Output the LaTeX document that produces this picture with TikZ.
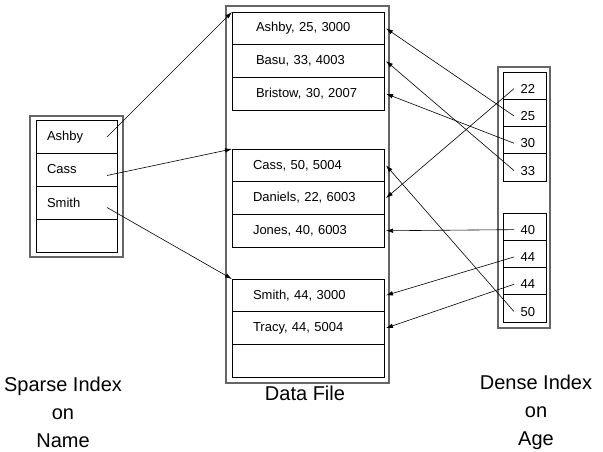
\documentclass[tikz,border=0pt]{standalone}
\usepackage{fontspec}
\setmainfont{Liberation Sans}
\usetikzlibrary{arrows.meta,calc}

\begin{document}
\begin{tikzpicture}[x=1pt,y=-1pt,
  outer/.style={draw=black!60,line width=1.3pt,inner sep=0,outer sep=0},
  cell/.style={draw,line width=0.9pt,inner sep=0,outer sep=0,font=\fontsize{13}{15}\selectfont},
  sparsecell/.style={cell,minimum width=81pt,minimum height=33pt,text width=59pt,align=left},
  filecell/.style={cell,minimum width=152pt,minimum height=32.7pt,text width=110pt,align=left},
  agecell/.style={cell,minimum width=43pt,minimum height=27.3pt,text width=21pt,align=right,text height=15pt,text depth=0pt},
  ptr/.style={-{Latex[length=7pt,width=4.5pt]},line width=0.6pt},
  caption/.style={align=center,font=\fontsize{20}{28}\selectfont}]
  \useasboundingbox (0,0) rectangle (603,452);

  % outer frames
  \node[outer,minimum width=93pt,minimum height=141pt] (sparse) at (76.5,186.5) {};
  \node[outer,minimum width=163pt,minimum height=377pt] (file) at (307.5,194.5) {};
  \node[outer,minimum width=52pt,minimum height=261pt] (dense) at (524,197.5) {};

  % sparse index on name
  \node[sparsecell] (sAshby) at (76.5,137) {Ashby};
  \node[sparsecell] (sCass) at (76.5,169.5) {Cass};
  \node[sparsecell] (sSmith) at (76.5,202.5) {Smith};
  \node[sparsecell] (sEmpty) at (76.5,235.5) {};

  % data file
  \node[filecell,text width=104pt] (fAshby) at (308,28.35) {Ashby, 25, 3000};
  \node[filecell,text width=104pt] (fBasu) at (308,61.05) {Basu, 33, 4003};
  \node[filecell,text width=104pt] (fBristow) at (308,93.75) {Bristow, 30, 2007};

  \node[filecell] (fCass) at (308,165.35) {Cass, 50, 5004};
  \node[filecell] (fDaniels) at (308,198.05) {Daniels, 22, 6003};
  \node[filecell] (fJones) at (308,230.75) {Jones, 40, 6003};

  \node[filecell] (fSmith) at (308,295.35) {Smith, 44, 3000};
  \node[filecell] (fTracy) at (308,328.05) {Tracy, 44, 5004};
  \node[filecell] (fEmpty) at (308,360.75) {};

  % dense index on age
  \node[agecell] (d22) at (524.5,85.65) {22};
  \node[agecell] (d25) at (524.5,112.95) {25};
  \node[agecell] (d30) at (524.5,140.25) {30};
  \node[agecell] (d33) at (524.5,167.55) {33};

  \node[agecell] (d40) at (524.5,226.65) {40};
  \node[agecell] (d44a) at (524.5,253.95) {44};
  \node[agecell] (d44b) at (524.5,281.25) {44};
  \node[agecell] (d50) at (524.5,308.55) {50};

  % sparse pointers
  \draw[ptr] ($(sAshby.east)+(-10,0)$) -- (fAshby.north west);
  \draw[ptr] ($(sCass.east)+(-10,6)$) -- (fCass.north west);
  \draw[ptr] ($(sSmith.east)+(-10,5)$) -- (fSmith.north west);

  % dense pointers
  \draw[ptr] ($(d22.west)+(11,3)$) -- ($(fDaniels.east)+(2,0)$);
  \draw[ptr] ($(d25.west)+(11,3)$) -- ($(fAshby.east)+(2,0)$);
  \draw[ptr] ($(d30.west)+(11,3)$) -- ($(fBristow.east)+(2,0)$);
  \draw[ptr] ($(d33.west)+(11,3)$) -- ($(fBasu.east)+(2,0)$);
  \draw[ptr] ($(d40.west)+(11,3)$) -- ($(fJones.east)+(2,0)$);
  \draw[ptr] ($(d44a.west)+(11,3)$) -- ($(fSmith.east)+(2,0)$);
  \draw[ptr] ($(d44b.west)+(11,3)$) -- ($(fTracy.east)+(2,0)$);
  \draw[ptr] ($(d50.west)+(11,3)$) -- ($(fCass.east)+(2,0)$);

  % captions
  \node[caption] (sparseLbl) at (63,412) {Sparse Index\\on\\Name};
  \node[caption] (fileLbl) at (305,393) {Data File};
  \node[caption] (denseLbl) at (536,412) {Dense Index\\on\\Age};

\end{tikzpicture}
\end{document}
